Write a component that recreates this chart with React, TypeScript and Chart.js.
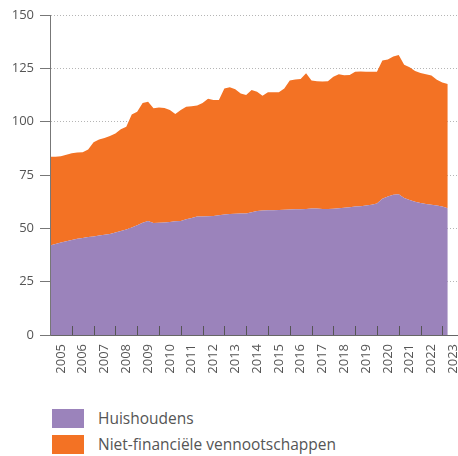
import React, { useEffect, useRef } from 'react';
import { Chart, registerables } from 'chart.js';

Chart.register(...registerables);

const startYear = 2005;
const years = [2005, 2006, 2007, 2008, 2009, 2010, 2011, 2012, 2013, 2014, 2015, 2016, 2017, 2018, 2019, 2020, 2021, 2022, 2023];
const yTicks = [0, 25, 50, 75, 100, 125, 150];
const seriesNames = ['Huishoudens', 'Niet-financiële vennootschappen'];
const seriesColors = ['#9b83bb', '#f37224'];

// quarterly, 2005Q1 .. 2023Q2
const huishoudens = [
  41.9, 42.7, 43.4, 44.0, 44.5, 45.1, 45.5, 45.9, 46.2, 46.6,
  47.0, 47.4, 48.0, 48.7, 49.4, 50.4, 51.5, 52.6, 53.4, 52.5,
  52.6, 52.7, 53.0, 53.3, 53.4, 54.2, 54.9, 55.5, 55.6, 55.7,
  55.8, 56.1, 56.5, 56.7, 56.8, 56.9, 57.0, 57.5, 58.1, 58.4,
  58.5, 58.5, 58.6, 58.7, 58.8, 58.9, 59.0, 59.1, 59.3, 59.3,
  59.1, 59.1, 59.2, 59.4, 59.6, 59.9, 60.2, 60.4, 60.7, 61.0,
  61.6, 63.9, 64.9, 65.8, 66.0, 64.2, 63.3, 62.5, 61.9, 61.4,
  61.0, 60.7, 60.2, 59.4,
];

const nietFinancieel = [
  41.6, 40.9, 40.4, 40.5, 40.7, 40.4, 40.2, 41.1, 44.1, 45.0,
  45.3, 45.9, 46.5, 47.7, 48.2, 53.0, 53.2, 56.1, 55.9, 53.8,
  54.0, 53.7, 52.5, 50.3, 52.1, 52.8, 52.3, 52.1, 53.2, 55.1,
  54.4, 54.1, 59.1, 59.4, 58.4, 56.3, 55.5, 57.3, 55.9, 53.8,
  55.3, 55.3, 55.2, 56.8, 60.5, 60.9, 61.0, 63.6, 60.0, 59.7,
  59.7, 59.9, 61.8, 62.8, 62.2, 62.0, 63.2, 63.1, 62.7, 62.4,
  61.8, 64.8, 64.2, 64.8, 65.2, 62.5, 62.2, 61.3, 60.9, 60.8,
  60.6, 58.9, 58.2, 58.2,
];

const FONT = '"Open Sans", "Noto Sans", sans-serif';

const yearMarks = {
  id: 'yearMarks',
  afterDatasetsDraw(chart: any) {
    const { ctx, chartArea, scales } = chart;
    const x = scales.x;
    ctx.save();
    ctx.strokeStyle = '#555';
    ctx.lineWidth = 1;
    years.slice(1).forEach((yr) => {
      const px = Math.round(x.getPixelForValue(yr)) + 0.5;
      ctx.beginPath();
      ctx.moveTo(px, chartArea.bottom);
      ctx.lineTo(px, chartArea.bottom - 9);
      ctx.stroke();
    });
    ctx.restore();
  },
};

export default function App() {
  const canvasRef = useRef<HTMLCanvasElement | null>(null);

  useEffect(() => {
    if (!canvasRef.current) return;
    const toPoints = (arr: number[]) => arr.map((v, i) => ({ x: startYear + i / 4, y: v }));
    const chart = new Chart(canvasRef.current, {
      type: 'line',
      data: {
        datasets: [
          {
            label: seriesNames[0],
            data: toPoints(huishoudens),
            backgroundColor: seriesColors[0],
            borderColor: seriesColors[0],
            borderWidth: 0,
            pointRadius: 0,
            fill: 'origin',
            tension: 0,
          },
          {
            label: seriesNames[1],
            data: toPoints(nietFinancieel),
            backgroundColor: seriesColors[1],
            borderColor: seriesColors[1],
            borderWidth: 0,
            pointRadius: 0,
            fill: '-1',
            tension: 0,
          },
        ],
      },
      options: {
        responsive: false,
        animation: false,
        layout: { padding: { top: 15, left: 0, right: 0, bottom: 0 } },
        plugins: {
          legend: { display: false },
          tooltip: { enabled: false },
        },
        scales: {
          x: {
            type: 'linear',
            min: 2005,
            max: 2023.72,
            afterBuildTicks: (scale: any) => {
              scale.ticks = years.map((y) => ({ value: y + 0.5 }));
            },
            afterFit: (scale: any) => {
              scale.height = 50;
              scale.paddingRight = 0;
              scale.paddingLeft = 0;
            },
            grid: { display: true, drawOnChartArea: false, drawTicks: false },
            border: { display: true, color: '#666', width: 1, z: 1 },
            ticks: {
              autoSkip: false,
              minRotation: 90,
              maxRotation: 90,
              padding: 9,
              color: '#555',
              font: { family: FONT, size: 13 },
              callback: (v: any) => String(Math.floor(Number(v))),
            },
          },
          y: {
            stacked: true,
            min: 0,
            max: 150,
            afterBuildTicks: (scale: any) => {
              scale.ticks = yTicks.map((v) => ({ value: v }));
            },
            afterFit: (scale: any) => {
              scale.width = 50;
            },
            grid: {
              color: '#b5b5b5',
              lineWidth: 1,
              drawTicks: true,
              tickLength: 10,
              tickColor: '#777',
              tickWidth: 1,
              tickBorderDash: [],
            },
            border: { display: true, color: '#777', width: 1, dash: [1, 2], z: 1 },
            ticks: {
              padding: 6,
              color: '#555',
              font: { family: FONT, size: 13 },
            },
          },
        },
      },
      plugins: [yearMarks],
    });
    return () => chart.destroy();
  }, []);

  const legendRow = (i: number, top: number) => (
    <div key={i}>
      <div
        style={{
          position: 'absolute',
          left: 52,
          top,
          width: 32,
          height: 19,
          background: seriesColors[i],
        }}
      />
      <div
        style={{
          position: 'absolute',
          left: 98,
          top: top - 2,
          height: 23,
          lineHeight: '23px',
          fontSize: 15.5,
          color: '#555',
          whiteSpace: 'nowrap',
        }}
      >
        {seriesNames[i]}
      </div>
    </div>
  );

  return (
    <div
      style={{
        position: 'absolute',
        left: 0,
        top: 0,
        width: 458,
        height: 456,
        background: '#fff',
        fontFamily: FONT,
        overflow: 'hidden',
      }}
    >
      <canvas ref={canvasRef} width={458} height={385} style={{ display: 'block', width: 458, height: 385 }} />
      {legendRow(0, 409)}
      {legendRow(1, 435)}
    </div>
  );
}
